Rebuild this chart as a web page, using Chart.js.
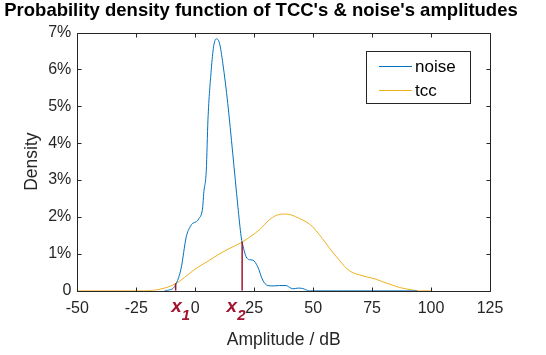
<!DOCTYPE html>
<html>
<head>
<meta charset="utf-8">
<script src="https://cdn.jsdelivr.net/npm/chart.js@4/dist/chart.umd.min.js"></script>
<style>
  html, body { margin: 0; padding: 0; background: #ffffff; }
  #wrap { width: 546px; height: 355px; position: relative; }
</style>
</head>
<body>
<div id="wrap"><canvas id="c"></canvas></div>
<script>
// ---- data (amplitude in dB, density in %) ----
const noiseX = [-13, -11, -9.5, -8, -6, -3.8, -2, -1, 0.4, 1.5, 3.2, 3.6, 4.7, 5.4, 6.8, 7.8, 8.9, 10.3, 11.7, 13.8, 15.9, 18.1, 19.5, 20.5, 21.6, 23, 24.4, 26.5, 28.6, 30.8, 33, 35.7, 38.6, 40, 41.4, 43.5, 45.6, 47, 48.4, 60, 80, 94];
const noiseY = [0, 0.02, 0.06, 0.2, 0.6, 1.46, 1.75, 1.83, 1.87, 1.95, 2.28, 2.64, 3.27, 4.63, 5.99, 6.62, 6.83, 6.71, 6.17, 5.08, 3.73, 2.28, 1.46, 1.15, 0.92, 0.84, 0.83, 0.65, 0.29, 0.14, 0.13, 0.14, 0.14, 0.09, 0.05, 0.07, 0.06, 0.02, 0, 0, 0, 0];
const tccX = [-50, -22, -18, -15, -11.5, -8, -4.5, -1, 2.5, 6.1, 9.6, 13.1, 16.6, 20.2, 23.7, 27.2, 31.4, 34.3, 37.8, 41, 44.1, 47, 49.7, 52.5, 55.4, 58.2, 61.1, 63.3, 65.4, 67.5, 69.6, 73, 76.7, 80, 83.7, 86.5, 89.4, 92, 95, 100];
const tccY = [0, 0, 0.01, 0.04, 0.1, 0.2, 0.36, 0.54, 0.69, 0.83, 0.97, 1.10, 1.21, 1.33, 1.48, 1.65, 1.92, 2.04, 2.08, 2.05, 1.96, 1.87, 1.74, 1.53, 1.29, 1.05, 0.83, 0.66, 0.54, 0.47, 0.43, 0.37, 0.31, 0.23, 0.15, 0.09, 0.05, 0.02, 0, 0];
const markerX = [-8.3, 19.9];
const markerTop = [0.2, 1.33];
const markerNames = ['1', '2'];
const xTicks = [-50, -25, 0, 25, 50, 75, 100, 125];
const yTicks = [0, 1, 2, 3, 4, 5, 6, 7];

const titleText = "Probability density function of TCC's & noise's amplitudes";
const seriesNames = ['noise', 'tcc'];
const seriesColors = ['#0072BD', '#EDB120'];
const markerColor = '#A2142F';
const axisColor = '#262626';
const FONT = "'Liberation Sans', Arial, Helvetica, sans-serif";

function pts(xs, ys) { return xs.map((x, i) => ({ x: x, y: ys[i] })); }

const datasets = [
  { label: seriesNames[0], data: pts(noiseX, noiseY), borderColor: seriesColors[0], borderWidth: 1,
    pointRadius: 0, cubicInterpolationMode: 'monotone', fill: false, order: 1 },
  { label: seriesNames[1], data: pts(tccX, tccY), borderColor: seriesColors[1], borderWidth: 1,
    pointRadius: 0, cubicInterpolationMode: 'monotone', fill: false, order: 2 }
];
markerX.forEach((mx, i) => {
  datasets.push({ label: 'x' + markerNames[i], data: [{ x: mx, y: 0 }, { x: mx, y: markerTop[i] }],
    borderColor: markerColor, borderWidth: 1.5, pointRadius: 0, fill: false, order: 0 });
});

// title, frame, inner tick marks, legend, and marker labels
const decor = {
  id: 'decor',
  afterDatasetsDraw(chart) {
    const { ctx, chartArea: a, scales } = chart;
    const xs = scales.x, ys = scales.y;
    ctx.save();

    // title
    ctx.fillStyle = '#000000';
    ctx.font = 'bold 18.5px ' + FONT;
    ctx.textAlign = 'center';
    ctx.textBaseline = 'alphabetic';
    ctx.fillText(titleText, 261, 16);

    ctx.strokeStyle = axisColor;
    ctx.lineWidth = 1;
    const L = Math.round(a.left) + 0.5, R = Math.round(a.right) + 0.5;
    const T = Math.round(a.top) + 0.5, B = Math.round(a.bottom) + 0.5;
    ctx.beginPath();
    ctx.rect(L, T, R - L, B - T);
    ctx.stroke();
    const tl = 4;
    ctx.beginPath();
    xTicks.forEach(v => {
      const px = Math.round(xs.getPixelForValue(v)) + 0.5;
      ctx.moveTo(px, B); ctx.lineTo(px, B - tl);
      ctx.moveTo(px, T); ctx.lineTo(px, T + tl);
    });
    yTicks.forEach(v => {
      const py = Math.round(ys.getPixelForValue(v)) + 0.5;
      ctx.moveTo(L, py); ctx.lineTo(L + tl, py);
      ctx.moveTo(R, py); ctx.lineTo(R - tl, py);
    });
    ctx.stroke();

    // legend box
    const bx = 366, by = 51, bw = 104, bh = 52;
    ctx.fillStyle = '#ffffff';
    ctx.fillRect(bx, by, bw, bh);
    ctx.strokeStyle = axisColor;
    ctx.strokeRect(bx + 0.5, by + 0.5, bw, bh);
    ctx.font = '17px ' + FONT;
    ctx.textBaseline = 'middle';
    ctx.textAlign = 'left';
    seriesNames.forEach((n, i) => {
      const yy = by + 15 + i * 24;
      ctx.strokeStyle = seriesColors[i];
      ctx.lineWidth = 1;
      ctx.beginPath();
      ctx.moveTo(379, yy + 0.5); ctx.lineTo(412, yy + 0.5);
      ctx.stroke();
      ctx.fillStyle = '#000000';
      ctx.fillText(n, 415, yy + 1);
    });

    // marker labels x1, x2
    const labelAnchor = [-10.2, 13.3];
    ctx.fillStyle = markerColor;
    ctx.textBaseline = 'alphabetic';
    markerNames.forEach((n, i) => {
      const px = xs.getPixelForValue(labelAnchor[i]);
      ctx.font = 'italic bold 19px ' + FONT;
      ctx.fillText('x', px, 312);
      const w = ctx.measureText('x').width;
      ctx.font = 'italic bold 15px ' + FONT;
      ctx.fillText(n, px + w, 320);
    });
    ctx.restore();
  }
};

new Chart(document.getElementById('c'), {
  type: 'line',
  data: { datasets: datasets },
  options: {
    responsive: true,
    maintainAspectRatio: false,
    animation: false,
    layout: { padding: { left: 0, right: 56, top: 32.6, bottom: 0 } },
    plugins: {
      legend: { display: false },
      tooltip: { enabled: false },
      title: { display: false }
    },
    scales: {
      x: {
        type: 'linear', min: -50, max: 125,
        afterBuildTicks: s => { s.ticks = xTicks.map(v => ({ value: v })); },
        ticks: { color: axisColor, font: { family: FONT, size: 16 }, padding: 8, maxRotation: 0, autoSkip: false },
        grid: { display: false, drawTicks: false },
        border: { display: false },
        title: { display: true, text: 'Amplitude / dB', color: axisColor,
                 font: { family: FONT, size: 17.5 }, padding: { top: 0, bottom: 4.5 } },
        afterFit: s => { s.height = 64.3; }
      },
      y: {
        type: 'linear', min: 0, max: 7,
        afterBuildTicks: s => { s.ticks = yTicks.map(v => ({ value: v })); },
        ticks: { color: axisColor, font: { family: FONT, size: 16 }, padding: 6,
                 callback: v => v === 0 ? '0' : v + '%' },
        grid: { display: false, drawTicks: false },
        border: { display: false },
        title: { display: true, text: 'Density', color: axisColor,
                 font: { family: FONT, size: 17.5 }, padding: { top: 21.5, bottom: 0 } },
        afterFit: s => { s.width = 77.3; }
      }
    }
  },
  plugins: [decor]
});
</script>
</body>
</html>
